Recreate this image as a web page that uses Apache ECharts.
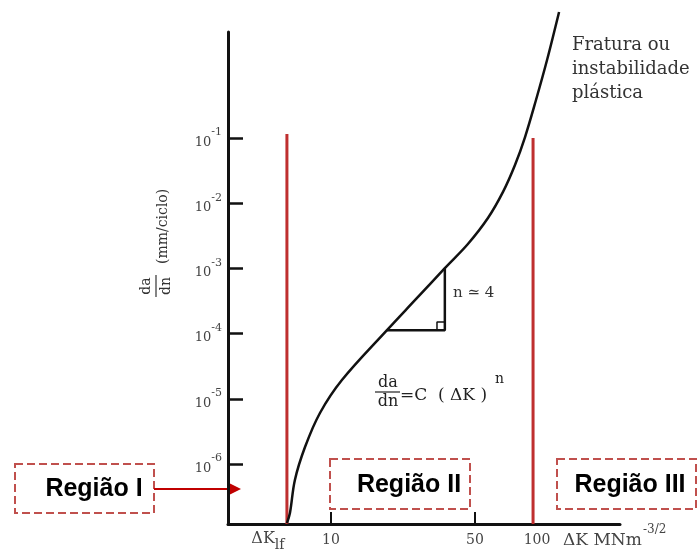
<!DOCTYPE html>
<html>
<head>
<meta charset="utf-8">
<script src="https://cdn.jsdelivr.net/npm/echarts@6/dist/echarts.min.js"></script>
<style>html,body{margin:0;padding:0;background:#fff}#c{width:697px;height:554px}</style>
</head>
<body>
<div id="c"></div>
<script>
// ---- data ----
const curveDeltaK = [6.11, 6.32, 6.68, 7.48, 8.84, 11.3, 18.7, 25.9, 35.7, 46.2, 57.8, 68.4, 78.2, 87.5, 98.9, 111.9, 128];
const curveDaDn   = [1.24e-7, 1.77e-7, 5.69e-7, 1.82e-6, 6.06e-6, 1.94e-5, 1.13e-4, 3.40e-4, 1.01e-3, 2.37e-3, 5.93e-3, 1.49e-2, 3.85e-2, 0.1036, 0.383, 1.57, 8.57];
const thresholdDeltaK = 6.11, thresholdTop = 0.115;
const fractureDeltaK = 95.7, fractureTop = 0.1;
const triangleDeltaK = [18.7, 35.7, 35.7];
const triangleDaDn   = [1.13e-4, 1.13e-4, 1.01e-3];
const squareDeltaK = [32.7, 32.7, 35.7];
const squareDaDn   = [1.13e-4, 1.51e-4, 1.51e-4];
const xLogRange = [0.5, 2.403];
const yLogRange = [-6.92, 0.626];
const yTickExponents = [-6, -5, -4, -3, -2, -1];
const xTickValues = [10, 50];
const xLabelValues = [6.11, 10, 50, 100];
const xLabelTexts = ['ΔK_lf', '10', '50', '100'];

const L = Math.log10;
const pairs = (xs, ys) => xs.map((x, i) => [L(x), L(ys[i])]);

const SERIF = '"DejaVu Serif", "Liberation Serif", serif';
const SANSB = 'bold 25px "Liberation Sans", Arial, sans-serif';
const chart = echarts.init(document.getElementById('c'), null, {renderer: 'canvas'});

const option = {
  backgroundColor: '#fff',
  animation: false,
  grid: {left: 228, right: 77, top: 32, bottom: 30},
  xAxis: {
    type: 'value', min: xLogRange[0], max: xLogRange[1],
    axisLine: {show: true, onZero: false, lineStyle: {color: '#111', width: 3}},
    splitLine: {show: false},
    axisTick: {show: true, inside: true, length: 12, lineStyle: {color: '#111', width: 2},
      customValues: xTickValues.map(L)},
    axisLabel: {
      customValues: xLabelValues.map(L), margin: 7,
      formatter: function (v) {
        let idx = 0, best = 1e9;
        xLabelValues.forEach((x, i) => { const d = Math.abs(L(x) - v); if (d < best) { best = d; idx = i; } });
        const t = xLabelTexts[idx];
        if (t.indexOf('_') >= 0) { const p = t.split('_'); return '{kb|' + p[0] + '}{ks|' + p[1] + '}'; }
        return '{n|' + t + '}';
      },
      rich: {
        n: {fontFamily: SERIF, fontSize: 14, color: '#444', lineHeight: 18},
        kb: {fontFamily: SERIF, fontSize: 16, color: '#444', lineHeight: 16, verticalAlign: 'top'},
        ks: {fontFamily: SERIF, fontSize: 14, color: '#444', verticalAlign: 'bottom', padding: [7, 38, 0, 0]}
      }
    }
  },
  yAxis: {
    type: 'value', min: yLogRange[0], max: yLogRange[1],
    axisLine: {show: true, onZero: false, lineStyle: {color: '#111', width: 3}},
    splitLine: {show: false},
    axisTick: {show: true, inside: true, length: 15, lineStyle: {color: '#111', width: 2.5},
      customValues: yTickExponents},
    axisLabel: {
      customValues: yTickExponents, margin: 6,
      formatter: v => '{b|10}{s|' + Math.round(v) + '}',
      rich: {
        b: {fontFamily: SERIF, fontSize: 13, color: '#444', lineHeight: 13, verticalAlign: 'bottom'},
        s: {fontFamily: SERIF, fontSize: 11, color: '#444', verticalAlign: 'top', padding: [0, 0, 11, 0]}
      }
    }
  },
  series: [
    {type: 'line', name: 'threshold', data: [[L(thresholdDeltaK), yLogRange[0]], [L(thresholdDeltaK), L(thresholdTop)]],
      symbol: 'none', lineStyle: {color: '#bf2f2f', width: 3}, z: 2},
    {type: 'line', name: 'fracture', data: [[L(fractureDeltaK), yLogRange[0]], [L(fractureDeltaK), L(fractureTop)]],
      symbol: 'none', lineStyle: {color: '#bf2f2f', width: 3}, z: 2},
    {type: 'line', name: 'curve', data: pairs(curveDeltaK, curveDaDn), smooth: 0.35, clip: false,
      symbol: 'none', lineStyle: {color: '#111', width: 2.5}, z: 3},
    {type: 'line', name: 'triangle', data: pairs(triangleDeltaK, triangleDaDn),
      symbol: 'none', lineStyle: {color: '#111', width: 2.5}, z: 3},
    {type: 'line', name: 'square', data: pairs(squareDeltaK, squareDaDn),
      symbol: 'none', lineStyle: {color: '#111', width: 1.5}, z: 3}
  ],
  graphic: [
    // y axis name (rotated)
    {type: 'group', x: 156, y: 286, rotation: Math.PI / 2, children: [
      {type: 'text', x: 0, y: -10, style: {text: 'da', font: '14px ' + SERIF, fill: '#333', textAlign: 'center', textVerticalAlign: 'middle'}},
      {type: 'line', shape: {x1: -11, y1: 0, x2: 11, y2: 0}, style: {stroke: '#333', lineWidth: 1.2}},
      {type: 'text', x: 0, y: 10, style: {text: 'dn', font: '14px ' + SERIF, fill: '#333', textAlign: 'center', textVerticalAlign: 'middle'}},
      {type: 'text', x: 22, y: 7, style: {text: '(mm/ciclo)', font: '14px ' + SERIF, fill: '#333', textAlign: 'left', textVerticalAlign: 'middle'}}
    ]},
    // x axis name
    {type: 'text', x: 563, y: 541, style: {text: 'ΔK MNm', font: '17px ' + SERIF, fill: '#444', textAlign: 'left', textVerticalAlign: 'middle'}},
    {type: 'text', x: 643, y: 530, style: {text: '-3/2', font: '12px ' + SERIF, fill: '#444', textAlign: 'left', textVerticalAlign: 'middle'}},
    // fracture note
    {type: 'text', x: 572, y: 33, style: {text: 'Fratura ou\ninstabilidade\nplástica', font: '18px ' + SERIF, lineHeight: 24, fill: '#333', textAlign: 'left', textVerticalAlign: 'top'}},
    // slope label
    {type: 'text', x: 453, y: 293, style: {text: 'n ≃ 4', font: '15px ' + SERIF, fill: '#333', textAlign: 'left', textVerticalAlign: 'middle'}},
    // Paris law formula
    {type: 'text', x: 388, y: 383, style: {text: 'da', font: '16px ' + SERIF, fill: '#222', textAlign: 'center', textVerticalAlign: 'middle'}},
    {type: 'line', shape: {x1: 375, y1: 392, x2: 400, y2: 392}, style: {stroke: '#222', lineWidth: 1.2}},
    {type: 'text', x: 388, y: 402, style: {text: 'dn', font: '16px ' + SERIF, fill: '#222', textAlign: 'center', textVerticalAlign: 'middle'}},
    {type: 'text', x: 400, y: 396, style: {text: '=C  ( ΔK )', font: '17px ' + SERIF, fill: '#222', textAlign: 'left', textVerticalAlign: 'middle'}},
    {type: 'text', x: 495, y: 379, style: {text: 'n', font: '14px ' + SERIF, fill: '#222', textAlign: 'left', textVerticalAlign: 'middle'}},
    // region boxes
    {type: 'rect', shape: {x: 15, y: 464, width: 139, height: 49}, style: {fill: 'none', stroke: '#c0504d', lineWidth: 2, lineDash: [8, 4]}},
    {type: 'text', x: 94, y: 489, style: {text: 'Região I', font: SANSB, fill: '#000', textAlign: 'center', textVerticalAlign: 'middle'}},
    {type: 'rect', shape: {x: 330, y: 459, width: 140, height: 50}, style: {fill: 'none', stroke: '#c0504d', lineWidth: 2, lineDash: [8, 4]}},
    {type: 'text', x: 409, y: 485, style: {text: 'Região II', font: SANSB, fill: '#000', textAlign: 'center', textVerticalAlign: 'middle'}},
    {type: 'rect', shape: {x: 557, y: 459, width: 139, height: 50}, style: {fill: 'none', stroke: '#c0504d', lineWidth: 2, lineDash: [8, 4]}},
    {type: 'text', x: 630, y: 485, style: {text: 'Região III', font: SANSB, fill: '#000', textAlign: 'center', textVerticalAlign: 'middle'}},
    // arrow to region I
    {type: 'line', shape: {x1: 154, y1: 489, x2: 229, y2: 489}, style: {stroke: '#c00000', lineWidth: 2}},
    {type: 'polygon', shape: {points: [[227, 482], [241, 489], [227, 496]]}, style: {fill: '#c00000'}}
  ]
};
chart.setOption(option);
</script>
</body>
</html>
